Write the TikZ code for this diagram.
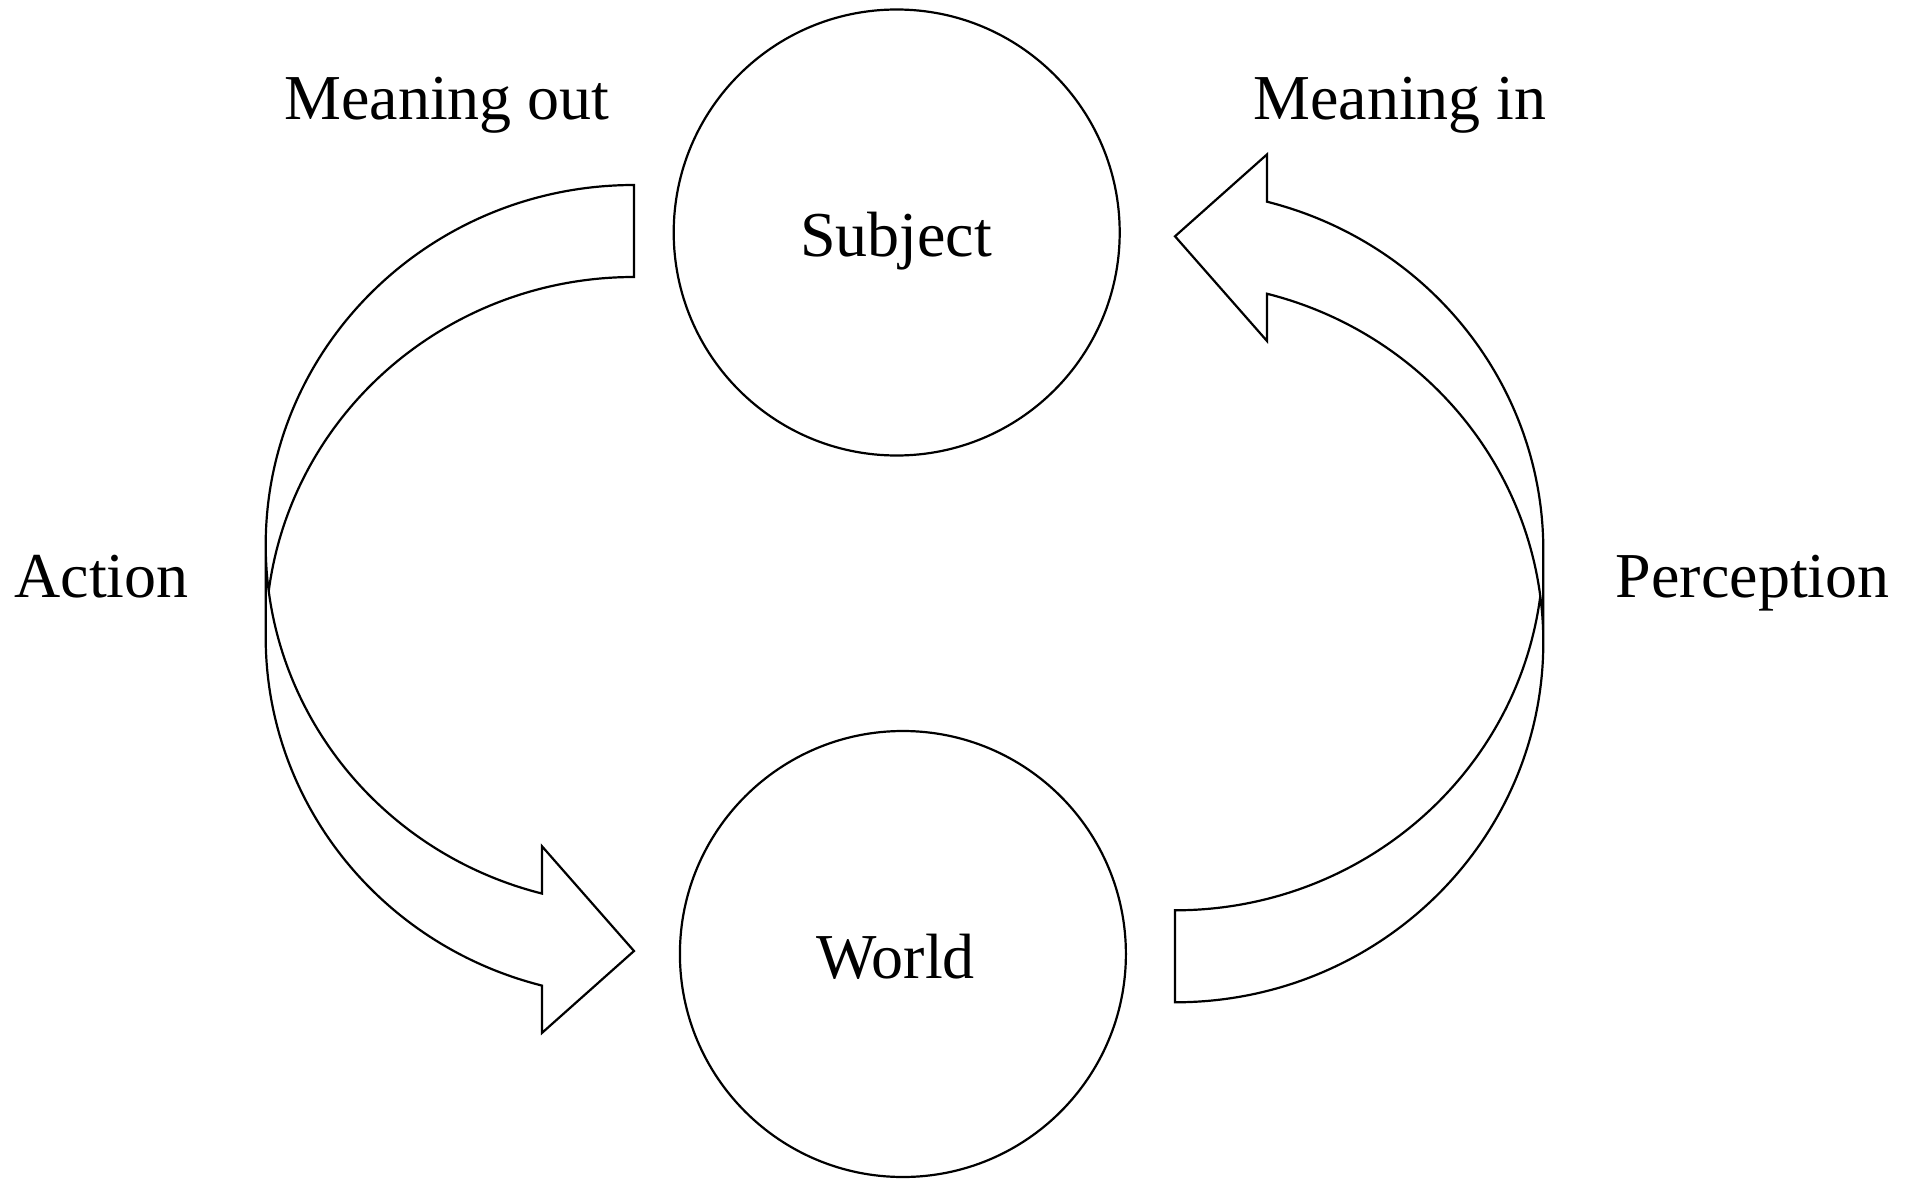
\documentclass[tikz,border=0pt]{standalone}
\usepackage{fontspec}
\setmainfont{Liberation Serif}
\newcommand{\CurvedBandArrow}{%
  \draw[bandarrow] (265.7,545)
    arc[start angle=180, end angle=104.465, x radius=368.3, y radius=360]
    -- (542,846.28) -- (634,951) -- (542,1032.88) -- (542,985.58)
    arc[start angle=104.465, end angle=180, x radius=368.3, y radius=360]
    -- (265.7,545)
    arc[start angle=180, end angle=270, x radius=368.3, y radius=360]
    -- (634,277)
    arc[start angle=270, end angle=187.341, x radius=368.3, y radius=360];%
}
\begin{document}
\begin{tikzpicture}[x=1pt,y=-1pt,
  bubble/.style={circle, draw, line width=2.2pt, minimum size=446pt, inner sep=0pt},
  lbl/.style={anchor=base, inner sep=0pt, font=\fontsize{64}{76}\selectfont},
  bandarrow/.style={draw, line width=2.2pt, line join=miter}]
\useasboundingbox (0,0) rectangle (1908,1182);

\node[bubble] (subject) at (896.7,232.5) {};
\node[bubble] (world) at (902.9,954) {};

\node[lbl] (subjectlbl) at (896,257) {Subject};
\node[lbl] (worldlbl) at (895.6,978.5) {World};
\node[lbl] (mout) at (447,120) {Meaning out};
\node[lbl] (min) at (1400,120) {Meaning in};
\node[lbl] (action) at (101.6,597.5) {Action};
\node[lbl] (perception) at (1752.8,597.5) {Perception};

\CurvedBandArrow
\begin{scope}[rotate around={180:(904.5,593.65)}]
\CurvedBandArrow
\end{scope}
\end{tikzpicture}
\end{document}
